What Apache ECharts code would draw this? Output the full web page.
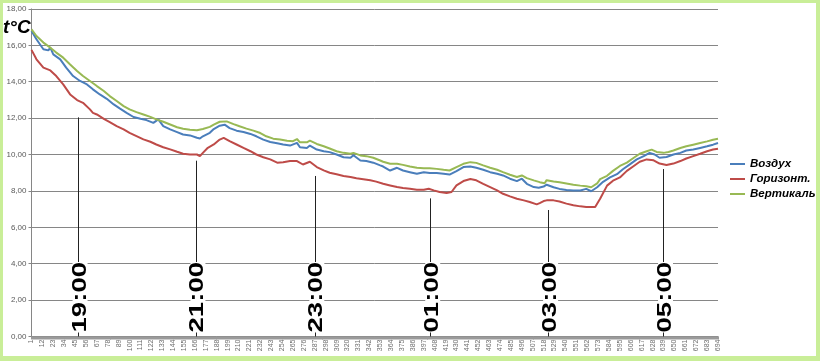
<!DOCTYPE html>
<html><head><meta charset="utf-8">
<script src="https://cdn.jsdelivr.net/npm/echarts@6/dist/echarts.min.js"></script>
<style>
html,body{margin:0;padding:0;background:#fff;}
#wrap{position:relative;width:820px;height:361px;background:#c9ee98;overflow:hidden;}
#inner{position:absolute;left:3px;top:3px;width:813px;height:353px;background:#fff;}
#chart{position:absolute;left:0;top:0;width:820px;height:361px;}
</style></head><body>
<div id="wrap"><div id="inner"></div><div id="chart"></div></div>
<script>
// x categories: sample numbers 1..694 (one per minute)
const pointCount = 694;
const categories = [];
for (let i = 1; i <= pointCount; i++) categories.push(String(i));

const seriesNames = ['Воздух', 'Горизонт.', 'Вертикаль'];
const seriesColors = ['#4a7ebb', '#be4b48', '#98b954'];

// [sample index (0-based), °C]
const vozdukh = [[0,16.79],[5,16.33],[12,15.78],[17,15.72],[19,15.87],[22,15.5],[29,15.23],[35,14.77],[42,14.31],[49,14.04],[56,13.85],[62,13.58],[69,13.3],[76,13.06],[83,12.75],[89,12.53],[96,12.29],[103,12.06],[110,11.96],[116,11.89],[123,11.74],[128,11.93],[133,11.56],[140,11.38],[147,11.23],[153,11.1],[160,11.05],[167,10.92],[170,10.88],[173,11.0],[180,11.19],[184,11.4],[190,11.58],[195,11.64],[200,11.45],[207,11.31],[214,11.24],[221,11.13],[227,11.0],[234,10.82],[241,10.69],[248,10.62],[254,10.55],[261,10.49],[268,10.64],[271,10.4],[278,10.36],[281,10.49],[288,10.27],[295,10.18],[301,10.13],[308,10.0],[315,9.85],[322,9.82],[325,9.96],[332,9.67],[338,9.64],[345,9.55],[352,9.4],[355,9.34],[362,9.12],[369,9.27],[375,9.12],[382,9.03],[389,8.94],[396,9.03],[402,8.98],[409,8.98],[416,8.94],[422,8.9],[429,9.09],[436,9.31],[443,9.34],[449,9.27],[456,9.16],[463,9.03],[470,8.94],[476,8.85],[483,8.67],[490,8.54],[495,8.67],[500,8.39],[507,8.21],[512,8.17],[517,8.24],[520,8.34],[527,8.2],[533,8.11],[540,8.05],[547,8.02],[554,8.02],[560,8.11],[565,7.98],[571,8.2],[577,8.5],[584,8.74],[591,8.92],[597,9.19],[604,9.46],[611,9.73],[618,9.91],[624,10.09],[629,10.0],[634,9.82],[641,9.86],[648,10.0],[655,10.09],[661,10.22],[668,10.27],[675,10.36],[682,10.45],[688,10.54],[693,10.63]];

const gorizont = [[0,15.75],[2,15.69],[5,15.23],[12,14.77],[19,14.62],[25,14.31],[32,13.85],[39,13.3],[46,12.99],[52,12.84],[59,12.48],[62,12.29],[64,12.35],[66,12.2],[73,11.96],[79,11.78],[86,11.56],[93,11.38],[99,11.19],[106,11.01],[113,10.83],[120,10.7],[126,10.55],[133,10.4],[140,10.28],[147,10.15],[153,10.04],[160,10.0],[167,10.0],[170,9.91],[173,10.09],[178,10.37],[184,10.55],[190,10.82],[194,10.91],[200,10.73],[207,10.55],[214,10.36],[221,10.18],[227,10.0],[234,9.85],[241,9.73],[248,9.55],[254,9.58],[261,9.64],[268,9.64],[274,9.45],[281,9.6],[288,9.31],[295,9.13],[301,9.0],[308,8.91],[315,8.82],[322,8.76],[328,8.69],[335,8.64],[342,8.58],[348,8.51],[355,8.39],[362,8.3],[369,8.21],[375,8.16],[382,8.12],[389,8.06],[396,8.06],[401,8.12],[406,8.03],[412,7.94],[419,7.88],[424,7.94],[429,8.3],[436,8.54],[443,8.65],[449,8.58],[456,8.39],[463,8.21],[470,8.03],[476,7.84],[483,7.7],[490,7.57],[497,7.48],[503,7.39],[510,7.26],[513,7.33],[517,7.44],[520,7.48],[527,7.48],[533,7.42],[540,7.3],[547,7.21],[554,7.15],[560,7.12],[569,7.12],[574,7.57],[581,8.29],[587,8.56],[594,8.74],[601,9.1],[608,9.37],[614,9.6],[621,9.73],[628,9.68],[634,9.5],[641,9.42],[648,9.5],[655,9.64],[661,9.78],[668,9.91],[675,10.04],[682,10.18],[688,10.27],[693,10.32]];

const vertikal = [[0,16.88],[5,16.51],[12,16.15],[19,15.87],[25,15.6],[32,15.32],[39,14.95],[46,14.59],[52,14.31],[59,14.04],[66,13.76],[73,13.49],[79,13.21],[86,12.94],[93,12.66],[99,12.48],[106,12.33],[113,12.2],[120,12.07],[126,11.93],[133,11.8],[140,11.65],[147,11.5],[153,11.41],[160,11.36],[167,11.33],[173,11.4],[180,11.52],[184,11.64],[190,11.8],[197,11.82],[204,11.67],[210,11.55],[217,11.42],[224,11.31],[231,11.18],[237,11.0],[244,10.87],[251,10.82],[258,10.76],[264,10.73],[268,10.85],[271,10.67],[278,10.67],[281,10.76],[288,10.58],[295,10.45],[301,10.33],[308,10.18],[315,10.09],[322,10.04],[325,10.09],[332,9.95],[338,9.91],[345,9.82],[352,9.67],[355,9.6],[362,9.49],[369,9.49],[375,9.43],[382,9.34],[389,9.27],[396,9.25],[402,9.25],[409,9.21],[416,9.16],[422,9.12],[429,9.31],[436,9.49],[443,9.58],[449,9.54],[456,9.4],[463,9.27],[470,9.16],[476,9.03],[483,8.89],[490,8.76],[495,8.85],[500,8.7],[507,8.58],[513,8.48],[518,8.42],[520,8.59],[527,8.52],[533,8.47],[540,8.41],[547,8.34],[554,8.29],[560,8.25],[565,8.2],[571,8.41],[574,8.65],[581,8.83],[587,9.1],[594,9.37],[601,9.55],[608,9.82],[614,10.04],[621,10.18],[626,10.27],[631,10.14],[638,10.09],[643,10.14],[648,10.22],[655,10.36],[661,10.45],[668,10.54],[675,10.63],[682,10.72],[688,10.81],[693,10.86]];

// time annotations: label, sample index, top of the marker line (°C)
const timeLabels = ['19:00', '21:00', '23:00', '01:00', '03:00', '05:00'];
const timeIdx = [47, 166, 286, 403, 522, 638];
const timeTop = [12.04, 9.66, 8.82, 7.59, 6.95, 9.2];

const yMin = 0, yMax = 18, yStep = 2;

const toData = arr => arr.map(p => [categories[p[0]], p[1]]);

const chart = echarts.init(document.getElementById('chart'), null, {renderer: 'canvas'});
const FONT = '"Liberation Sans", Arial, sans-serif';

const markLines = timeIdx.map((ix, i) => [
  {coord: [categories[ix], yMin]},
  {coord: [categories[ix], timeTop[i]]}
]);

const option = {
  backgroundColor: 'transparent',
  animation: false,
  title: {
    text: 't°C', left: 3, top: 18, padding: 0,
    textStyle: {fontSize: 19, fontWeight: 'bold', fontStyle: 'italic', color: '#000', fontFamily: FONT}
  },
  legend: {
    data: seriesNames, orient: 'vertical', left: 730, top: 157, padding: 0,
    icon: 'rect', itemWidth: 15, itemHeight: 2, itemGap: 1,
    textStyle: {fontSize: 11.5, fontWeight: 'bold', fontStyle: 'italic', color: '#000', fontFamily: FONT, lineHeight: 14}
  },
  grid: {left: 31.5, right: 102, top: 8.9, bottom: 24.5, containLabel: false},
  xAxis: {
    type: 'category', data: categories, boundaryGap: false,
    axisLine: {lineStyle: {color: '#868686', width: 1}},
    axisTick: {show: true, interval: 0, length: 3, lineStyle: {color: '#9a9a9a'}},
    axisLabel: {interval: 10, rotate: 90, fontSize: 7, color: '#6e6e6e', margin: 3, fontFamily: FONT},
    splitLine: {show: false}
  },
  yAxis: {
    type: 'value', min: yMin, max: yMax, interval: yStep,
    axisLine: {show: true, lineStyle: {color: '#868686'}},
    axisTick: {show: true, length: 3, lineStyle: {color: '#868686'}},
    axisLabel: {fontSize: 8, color: '#595959', margin: 5, fontFamily: FONT,
      formatter: v => v.toFixed(2).replace('.', ',')},
    splitLine: {lineStyle: {color: '#868686', width: 1}}
  },
  series: [
    {name: seriesNames[0], type: 'line', data: toData(vozdukh), showSymbol: false, symbol: 'none',
      color: seriesColors[0], lineStyle: {width: 2, color: seriesColors[0]}},
    {name: seriesNames[1], type: 'line', data: toData(gorizont), showSymbol: false, symbol: 'none',
      color: seriesColors[1], lineStyle: {width: 2, color: seriesColors[1]}},
    {name: seriesNames[2], type: 'line', data: toData(vertikal), showSymbol: false, symbol: 'none',
      color: seriesColors[2], lineStyle: {width: 2, color: seriesColors[2]},
      markLine: {silent: true, symbol: ['none', 'none'], label: {show: false},
        lineStyle: {color: '#222', width: 1, type: 'solid'}, data: markLines}}
  ]
};
chart.setOption(option);

const graphics = timeIdx.map((ix, i) => {
  const p = chart.convertToPixel({gridIndex: 0}, [categories[ix], yMin]);
  return {
    type: 'text', x: p[0] + 2, y: p[1] - 4, rotation: Math.PI / 2, scaleX: 1.38, z: 100,
    style: {text: timeLabels[i], fontSize: 20, fontWeight: 'bold', fontFamily: FONT, fill: '#000',
      align: 'left', verticalAlign: 'middle', backgroundColor: '#fff', lineHeight: 15}
  };
});
chart.setOption({graphic: graphics});
</script>
</body></html>
